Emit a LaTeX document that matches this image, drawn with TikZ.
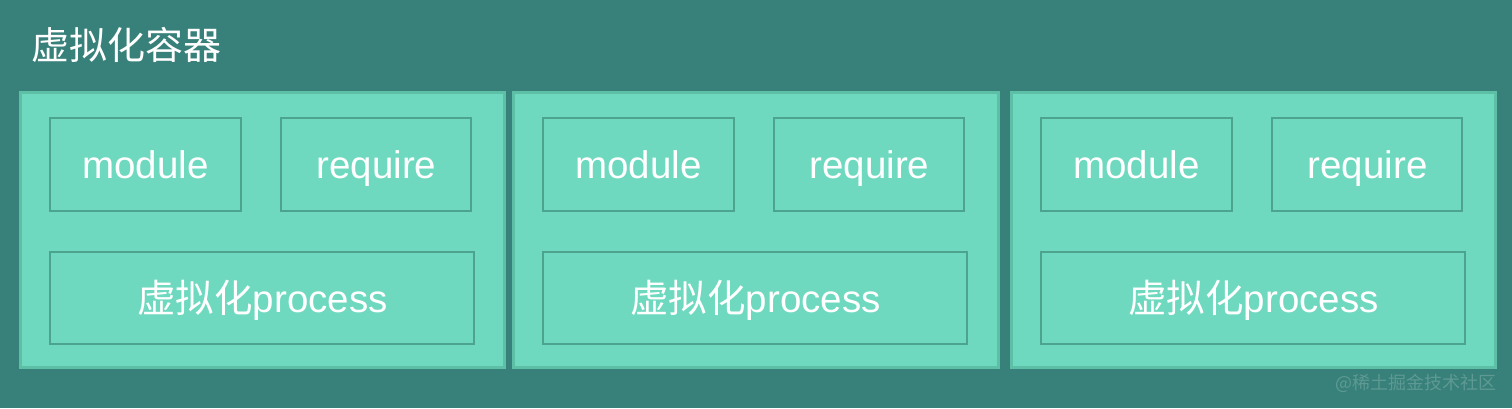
\documentclass[tikz,border=0pt]{standalone}
\usepackage{fontspec}
\setmainfont{Liberation Sans}
\newfontfamily\cjk{Noto Sans CJK SC}
\begin{document}
\begin{tikzpicture}[x=1pt,y=-1pt,
  outerbox/.style={draw=obord,fill=boxfill,line width=3pt},
  innerbox/.style={draw=ibord,fill=boxfill,line width=2.6pt},
  lbl/.style={text=white,font=\fontsize{38.5}{42}\selectfont,anchor=base,inner sep=0pt}]
\definecolor{bg}{HTML}{38807A}
\definecolor{boxfill}{HTML}{6ED9BF}
\definecolor{obord}{HTML}{5CBFA6}
\definecolor{ibord}{HTML}{4CA48F}
\definecolor{wm}{HTML}{5E9A93}
\fill[bg] (0,0) rectangle (1512,408);
\useasboundingbox (0,0) rectangle (1512,408);
\node[text=white,font=\cjk\fontsize{38}{42}\selectfont,anchor=west,inner sep=0pt] (title) at (31,45) {虚拟化容器};
\foreach \i/\ox/\ow in {1/20/484, 2/513/485, 3/1011/484}{
  \draw[outerbox] (\ox,92) rectangle ++(\ow,275);
  \draw[innerbox] (\ox+30,118) rectangle ++(191,93);
  \draw[innerbox] (\ox+261,118) rectangle ++(190,93);
  \draw[innerbox] (\ox+30,252) rectangle ++(424,92);
  \node[lbl] (m\i) at (\ox+125.5,178) {module};
  \node[lbl] (r\i) at (\ox+356.5,178) {require};
  \node[lbl] (p\i) at (\ox+242.5,312) {{\cjk 虚拟化}process};
}
\node[text=wm,font=\cjk\fontsize{18}{22}\selectfont,anchor=east,inner sep=0pt] (wmark) at (1497,383) {@稀土掘金技术社区};
\end{tikzpicture}
\end{document}
